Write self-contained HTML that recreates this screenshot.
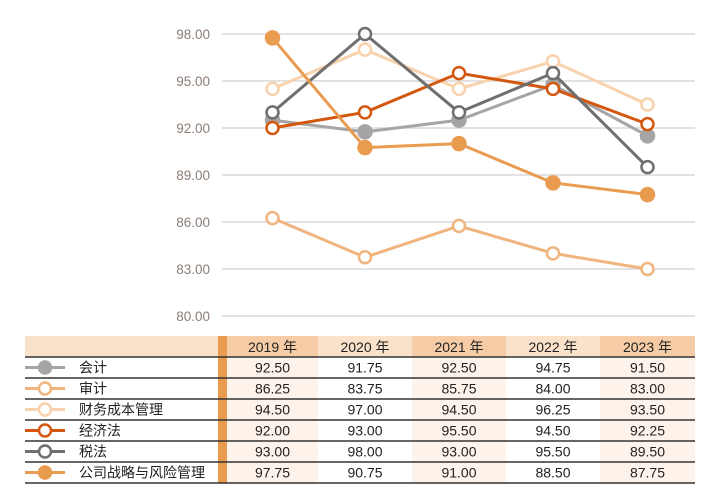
<!DOCTYPE html>
<html><head><meta charset="utf-8"><style>
body{margin:0;background:#fff;width:717px;height:492px;overflow:hidden;font-family:"Liberation Sans","Noto Sans CJK SC",sans-serif}
</style></head><body>
<svg id="chart" width="717" height="492" xmlns="http://www.w3.org/2000/svg"></svg>
<script>
const years=["2019 年","2020 年","2021 年","2022 年","2023 年"];
const seriesNames=["会计","审计","财务成本管理","经济法","税法","公司战略与风险管理"];
const kuaiji=[92.50,91.75,92.50,94.75,91.50];
const shenji=[86.25,83.75,85.75,84.00,83.00];
const caiwu=[94.50,97.00,94.50,96.25,93.50];
const jingjifa=[92.00,93.00,95.50,94.50,92.25];
const shuifa=[93.00,98.00,93.00,95.50,89.50];
const gongsi=[97.75,90.75,91.00,88.50,87.75];
const yTicks=[80,83,86,89,92,95,98];
const allSeries=[kuaiji,shenji,caiwu,jingjifa,shuifa,gongsi];
const colors=["#a5a5a5","#f0b47e","#f8d2ac","#d4570f","#6f6f6f","#e99b4f"];
const filled=[true,false,false,false,false,true];
const NS="http://www.w3.org/2000/svg";
const svg=document.getElementById('chart');
function el(t,a,p){const e=document.createElementNS(NS,t);for(const k in a)e.setAttribute(k,a[k]);(p||svg).appendChild(e);return e;}
const y=v=>34+(98-v)*47/3;
const colX=[227,318,412,506,600,695];
const x=i=>(colX[i]+colX[i+1])/2;
yTicks.forEach(t=>{
 const g=el('line',{x1:222,x2:695,y1:y(t),y2:y(t),stroke:'#d9d9d9','stroke-width':1.5});
 
 
 const l=el('text',{x:210,y:y(t)+5,'text-anchor':'end','font-size':13.5,fill:'#8b7d74'});
 l.textContent=t.toFixed(2);
 
 
});
allSeries.forEach((s,si)=>{
 const pl=el('polyline',{points:s.map((v,i)=>x(i)+','+y(v)).join(' '),fill:'none',stroke:colors[si],'stroke-width':3});
 
 
 s.forEach((v,i)=>{
  const c=el('circle',{cx:x(i),cy:y(v),r:filled[si]?6.5:6,fill:filled[si]?colors[si]:'#fff',stroke:colors[si],'stroke-width':2.5});
  
  
 });
});
const tableTop=336,hh=21,rh=21;
let r=el('rect',{x:25,y:tableTop,width:670,height:hh,fill:'#f9e1ca'});


for(let i=0;i<5;i++){
 const odd=i%2===0;
 const h=el('rect',{x:colX[i],y:tableTop,width:colX[i+1]-colX[i],height:hh,fill:odd?'#f5cca6':'#f9e1ca'});
 
 
 if(odd){
  const b=el('rect',{x:colX[i],y:tableTop+hh,width:colX[i+1]-colX[i],height:rh*6,fill:'#fdf3ea'});
  
  
 }
 const t=el('text',{x:x(i),y:tableTop+16,'text-anchor':'middle','font-size':14,fill:'#222'});
 t.textContent=years[i];
 
 
}
r=el('rect',{x:218,y:tableTop,width:9,height:hh+rh*6,fill:'#e99b4f'});


for(let k=0;k<=6;k++){
 const ln=el('line',{x1:25,x2:695,y1:tableTop+hh+k*rh,y2:tableTop+hh+k*rh,stroke:'#333','stroke-width':1.5});
 
 
}
allSeries.forEach((s,si)=>{
 const cy=tableTop+hh+si*rh+rh/2;
 const ll=el('line',{x1:25,x2:65,y1:cy,y2:cy,stroke:colors[si],'stroke-width':3});
 
 
 const lc=el('circle',{cx:45,cy:cy,r:6,fill:filled[si]?colors[si]:'#fff',stroke:colors[si],'stroke-width':2.5});
 
 
 const nt=el('text',{x:79,y:cy+5,'font-size':14,fill:'#222'});
 nt.textContent=seriesNames[si];
 
 
 s.forEach((v,i)=>{
  const vt=el('text',{x:x(i),y:cy+5,'text-anchor':'middle','font-size':14,fill:'#222'});
  vt.textContent=v.toFixed(2);
  
  
 });
});
</script>
</body></html>
